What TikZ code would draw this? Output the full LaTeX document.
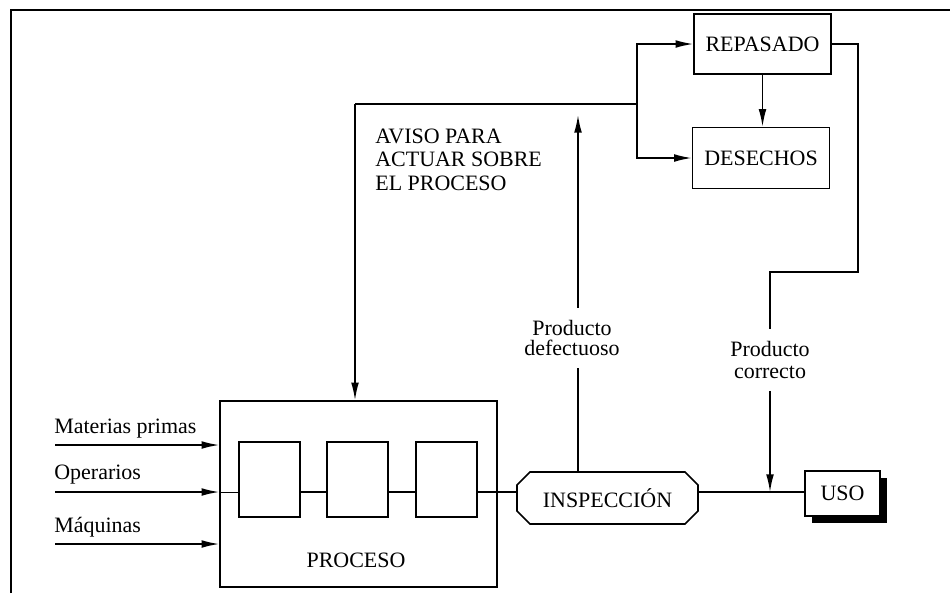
\documentclass[tikz,border=0pt]{standalone}
\usepackage{fontspec}
\setmainfont{Liberation Serif}
\usetikzlibrary{arrows.meta, positioning, shapes.misc, shadows}

\begin{document}
\begin{tikzpicture}[x=0.02cm, y=-0.02cm,
  caja/.style={draw, line width=0.9pt, inner sep=0pt, font=\fontsize{12.5}{14}\selectfont},
  linea/.style={line width=0.9pt},
  flecha/.style={-{Latex[length=10pt,width=4.4pt]}},
  rotulo/.style={inner xsep=0pt, inner ysep=7pt, align=center},
  entrada/.style={inner sep=0pt, anchor=base west, font=\fontsize{12.5}{14}\selectfont}]

\useasboundingbox (0,0) rectangle (950,593);
\draw[line width=1.2pt] (11,593) -- (11,10) -- (950,10);

\node[caja, minimum width=2.74cm, minimum height=1.2cm] (repasado) at (762.5,44) {REPASADO};
\node[caja, minimum width=2.74cm, minimum height=1.22cm] (desechos) at (761,158) {DESECHOS};

\node[caja, minimum width=5.54cm, minimum height=3.72cm] (proceso) at (358.5,494) {};
\node[inner sep=0pt, font=\fontsize{12.5}{14}\selectfont] (procesotxt) at (356,560) {PROCESO};
\node[caja, minimum width=1.22cm, minimum height=1.5cm] (etapa1) at (269.5,479.5) {};
\node[caja, minimum width=1.22cm, minimum height=1.5cm] (etapa2) at (357.5,479.5) {};
\node[caja, minimum width=1.22cm, minimum height=1.5cm] (etapa3) at (446.5,479.5) {};

\node[caja, chamfered rectangle, chamfered rectangle sep=0.13cm, minimum width=3.62cm, minimum height=1.04cm] (inspeccion) at (607.5,498) {INSPECCIÓN};
\node[caja, fill=white, minimum width=1.5cm, minimum height=0.9cm,
  drop shadow={shadow xshift=0.14cm, shadow yshift=-0.14cm, opacity=1, fill=black}] (uso) at (842.5,493.5) {USO};

\node[entrada] (mp) at (54,433) {Materias primas};
\node[entrada] (op) at (54,479) {Operarios};
\node[entrada] (maq) at (54,532) {Máquinas};

\node[inner sep=0pt, anchor=north west, align=left, font=\fontsize{12.5}{13.3}\selectfont] (avisotxt) at (375,128.5) {AVISO PARA\\ACTUAR SOBRE\\EL PROCESO};
\node[rotulo, font=\fontsize{12.5}{11.5}\selectfont] (defectuoso) at (572,338) {Producto\\defectuoso};
\node[rotulo, font=\fontsize{12.5}{12}\selectfont] (correcto) at (770,360) {Producto\\correcto};

\coordinate (mpin) at (55,445);
\coordinate (opin) at (55,492);
\coordinate (maqin) at (55,544);
\coordinate (eje) at (0,492);
\coordinate (aviso) at (355,104);
\coordinate (rama) at (637,104);
\coordinate (tope) at (578,115);
\coordinate (giro1) at (858,272);
\coordinate (giro2) at (770,272);

\draw[linea, flecha] (mpin) -- (mpin -| proceso.west);
\draw[linea, flecha] (opin) -- (opin -| proceso.west);
\draw[linea, flecha] (maqin) -- (maqin -| proceso.west);
\draw[thin] (opin -| proceso.west) -- (opin -| etapa1.west);

\draw[linea] (etapa1.east |- eje) -- (etapa2.west |- eje);
\draw[linea] (etapa2.east |- eje) -- (etapa3.west |- eje);
\draw[linea] (etapa3.east |- eje) -- (eje -| inspeccion.west);
\draw[linea] (eje -| inspeccion.east) -- (eje -| uso.west);

\draw[linea] (tope |- inspeccion.north) -- (tope |- defectuoso.south);
\draw[linea, flecha] (tope |- defectuoso.north) -- (tope);

\draw[linea] (aviso) -- (rama);
\draw[linea, flecha] (aviso) -- (aviso |- proceso.north);
\draw[linea, flecha] (rama) |- (repasado.west);
\draw[linea, flecha] (rama) |- (desechos.west);
\draw[linea, flecha] (repasado.south) -- (repasado.south |- desechos.north);

\draw[linea] (repasado.east) -| (giro1) -- (giro2) -- (giro2 |- correcto.north);
\draw[linea, flecha] (giro2 |- correcto.south) -- (giro2 |- eje);

\end{tikzpicture}
\end{document}
